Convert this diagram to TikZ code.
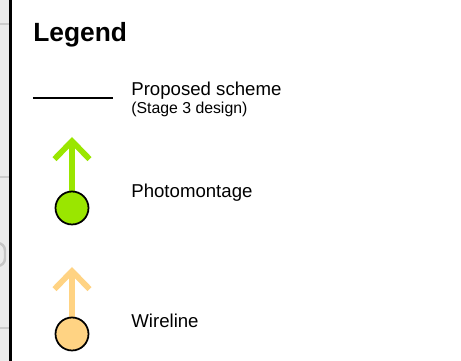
\documentclass[tikz,border=0pt]{standalone}
\usepackage{fontspec}
\setmainfont{Liberation Sans}
\usetikzlibrary{arrows.meta}
\usetikzlibrary{positioning}

\definecolor{photogreen}{HTML}{9AE600}
\definecolor{wireorange}{HTML}{FFD383}
\definecolor{panelgray}{HTML}{EBEBEB}

\begin{document}
\begin{tikzpicture}[
    x = 0.02cm, y = -0.02cm,
    >=latex,
    viewpoint/.style = {
        draw, circle, black, line width = 0.035cm,
        minimum size = 0.66cm, inner sep = 0pt
    },
    viewarrow/.style = {
        line width = 0.115cm,
        -{Straight Barb[length = 0.36cm, width = 0.70cm]}
    },
    label/.style = {anchor = base west, inner sep = 0pt},
  ]
  \useasboundingbox (0,0) rectangle (461,361);

  % panel edge on the left
  \begin{scope}
    \clip (0,0) rectangle (9,361);
    \fill[panelgray] (0,0) rectangle (9,361);
    \foreach \y in {24, 177, 328}
      \draw[gray!40, line width = 0.03cm] (0,\y) -- (9,\y);
    \draw[gray!45, line width = 0.05cm, rounded corners = 0.15cm] (-12,243) rectangle (5,266);
  \end{scope}
  \draw[black, line width = 0.065cm] (10.5,0) -- (10.5,361);

  \node[label, font = \fontsize{15}{16}\selectfont\bfseries] (title) at (33,42) {Legend};

  % proposed scheme
  \coordinate (schemeA) at (33,98);
  \coordinate (schemeB) at (113,98);
  \draw[black, line width = 0.025cm] (schemeA) -- (schemeB);
  \node[label, font = \fontsize{10.6}{12}\selectfont] (scheme) at (131,96) {Proposed scheme};
  \node[label, font = \fontsize{9}{10}\selectfont] (stage) at (131,114) {(Stage 3 design)};

  % photomontage
  \coordinate (photoPt) at (72,208);
  \coordinate (photoTip) at (72,137);
  \draw[viewarrow, photogreen] (photoPt) -- (photoTip);
  \node[viewpoint, fill = photogreen] (photo) at (photoPt) {};
  \node[label, font = \fontsize{10.6}{12}\selectfont] (photoText) at (131,198) {Photomontage};

  % wireline
  \coordinate (wirePt) at (72,334);
  \coordinate (wireTip) at (72,267);
  \draw[viewarrow, wireorange] (wirePt) -- (wireTip);
  \node[viewpoint, fill = wireorange] (wire) at (wirePt) {};
  \node[label, font = \fontsize{10.6}{12}\selectfont] (wireText) at (131,328) {Wireline};
\end{tikzpicture}
\end{document}
